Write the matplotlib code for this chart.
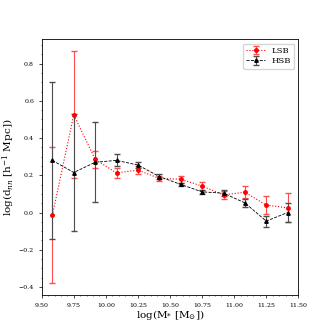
import matplotlib
matplotlib.use('Agg')
import matplotlib.pyplot as plt
from matplotlib.ticker import AutoMinorLocator

plt.rcParams['font.family'] = ['DejaVu Serif']
plt.rcParams['mathtext.fontset'] = 'dejavuserif'

mass = [9.583, 9.75, 9.917, 10.083, 10.25, 10.417, 10.583, 10.75, 10.917, 11.083, 11.25, 11.417]

lsb = [-0.015, 0.525, 0.285, 0.213, 0.228, 0.183, 0.179, 0.142, 0.095, 0.109, 0.040, 0.025]
lsb_err = [0.365, 0.34, 0.045, 0.025, 0.02, 0.015, 0.018, 0.02, 0.021, 0.033, 0.049, 0.078]

hsb = [0.28, 0.215, 0.27, 0.28, 0.255, 0.193, 0.151, 0.111, 0.104, 0.052, -0.046, 0.0]
hsb_err = [0.42, 0.315, 0.216, 0.032, 0.018, 0.013, 0.01, 0.012, 0.016, 0.02, 0.03, 0.053]

fig = plt.figure(figsize=(3.32, 3.32), dpi=100)
ax = fig.add_axes([0.1256, 0.1114, 0.773, 0.770])

ax.errorbar(mass, lsb, yerr=lsb_err, color='red', ecolor=(1, 0.3, 0.3), fmt='o', ls=':',
            lw=0.8, elinewidth=0.8, capsize=2, ms=2.5, label='LSB')
ax.errorbar(mass, hsb, yerr=hsb_err, color='black', ecolor=(0.3, 0.3, 0.3), fmt='^', ls='--',
            lw=0.6, elinewidth=0.8, capsize=2, ms=2.5, label='HSB')

ax.set_xlim(9.5, 11.5)
ax.set_ylim(-0.443, 0.93)
ax.set_xticks([9.5, 9.75, 10.0, 10.25, 10.5, 10.75, 11.0, 11.25, 11.5])
ax.set_yticks([-0.4, -0.2, 0.0, 0.2, 0.4, 0.6, 0.8])
ax.xaxis.set_minor_locator(AutoMinorLocator(5))
ax.yaxis.set_minor_locator(AutoMinorLocator(4))
ax.tick_params(labelsize=4.5, length=2, width=0.5)
ax.tick_params(which='minor', length=1, width=0.4)
for s in ax.spines.values():
    s.set_linewidth(0.6)

ax.set_xlabel(r'log(M$_{*}$ [M$_{\odot}$])', fontsize=7.5, labelpad=0.5)
ax.set_ylabel(r'log(d$_{nn}$ [h$^{-1}$ Mpc])', fontsize=7.5, labelpad=1)

ax.legend(loc='upper right', fontsize=6, handlelength=2.2, borderpad=0.4, labelspacing=0.3)

plt.savefig('out.png', dpi=100)
